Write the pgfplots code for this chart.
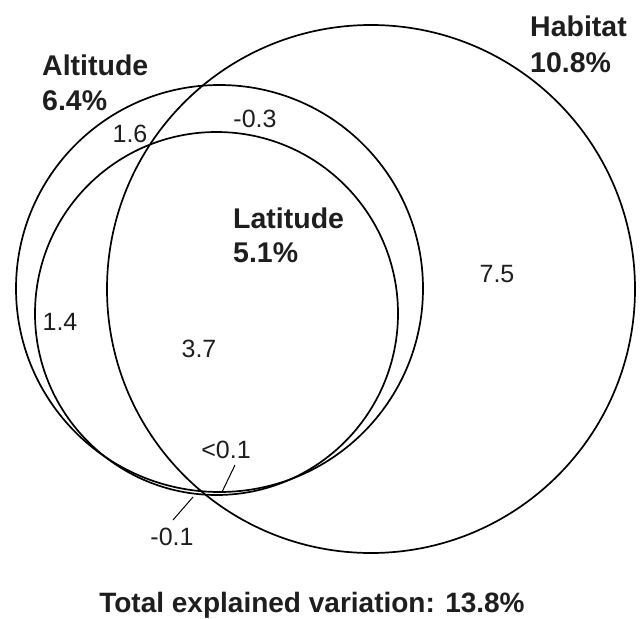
\documentclass[border=0pt]{standalone}
\usepackage{pgfplots}
\pgfplotsset{compat=1.18}
\usepackage{pgfplotstable}
\usepackage{fontspec}
\setmainfont{Liberation Sans}

% Circle centres and radii (drawing units, y measured downward)
\pgfplotstableread{
x      y      r
219.5  288.5  203.5
216.5  313.5  181.5
371.0  289.0  264.0
}\circles

\definecolor{ink}{RGB}{30,30,30}
\newcommand{\lab}{\fontsize{28.5}{34}\selectfont\bfseries}
\newcommand{\num}{\fontsize{25}{30}\selectfont}

\begin{document}
\begin{tikzpicture}
\begin{axis}[
  x=1pt, y=1pt,
  xmin=0, xmax=644, ymin=0, ymax=618,
  y dir=reverse,
  axis line style={draw=none},
  xtick=\empty, ytick=\empty,
  clip=false,
  every node/.append style={text=ink},
]
\addplot[scatter, only marks, mark=o,
  scatter/use mapped color={draw=black, fill=none},
  mark options={line width=1.7pt},
  visualization depends on={\thisrow{r} \as \rad},
  scatter/@pre marker code/.append style={/tikz/mark size=\rad}]
  table[x=x, y=y] {\circles};

% set names and their shares
\node[anchor=base west, inner sep=0, text=ink] at (axis cs:42,75) {\lab Altitude};
\node[anchor=base west, inner sep=0, text=ink] at (axis cs:42,110) {\lab 6.4\%};
\node[anchor=base west, inner sep=0, text=ink] at (axis cs:530,37) {\lab Habitat};
\node[anchor=base west, inner sep=0, text=ink] at (axis cs:530,72) {\lab 10.8\%};
\node[anchor=base west, inner sep=0, text=ink] at (axis cs:233,228) {\lab Latitude};
\node[anchor=base west, inner sep=0, text=ink] at (axis cs:233,262) {\lab 5.1\%};

% fractions of the partition
\node[anchor=base, inner sep=0, text=ink] at (axis cs:130,142) {\num 1.6};
\node[anchor=base, inner sep=0, text=ink] at (axis cs:255,127) {\num -0.3};
\node[anchor=base, inner sep=0, text=ink] at (axis cs:497,282) {\num 7.5};
\node[anchor=base, inner sep=0, text=ink] at (axis cs:60,330) {\num 1.4};
\node[anchor=base, inner sep=0, text=ink] at (axis cs:199,357) {\num 3.7};
\node[anchor=base, inner sep=0, text=ink] at (axis cs:226,458) {\num <0.1};
\node[anchor=base, inner sep=0, text=ink] at (axis cs:172,545) {\num -0.1};

% leader lines for the thin slivers
\draw[line width=1pt] (axis cs:235,465) -- (axis cs:222,492);
\draw[line width=1pt] (axis cs:193,497) -- (axis cs:173,520);

\node[anchor=base, inner sep=0, text=ink] at (axis cs:312,612) {\fontsize{28}{34}\selectfont\bfseries Total explained variation: 13.8\%};
\end{axis}
\end{tikzpicture}
\end{document}
